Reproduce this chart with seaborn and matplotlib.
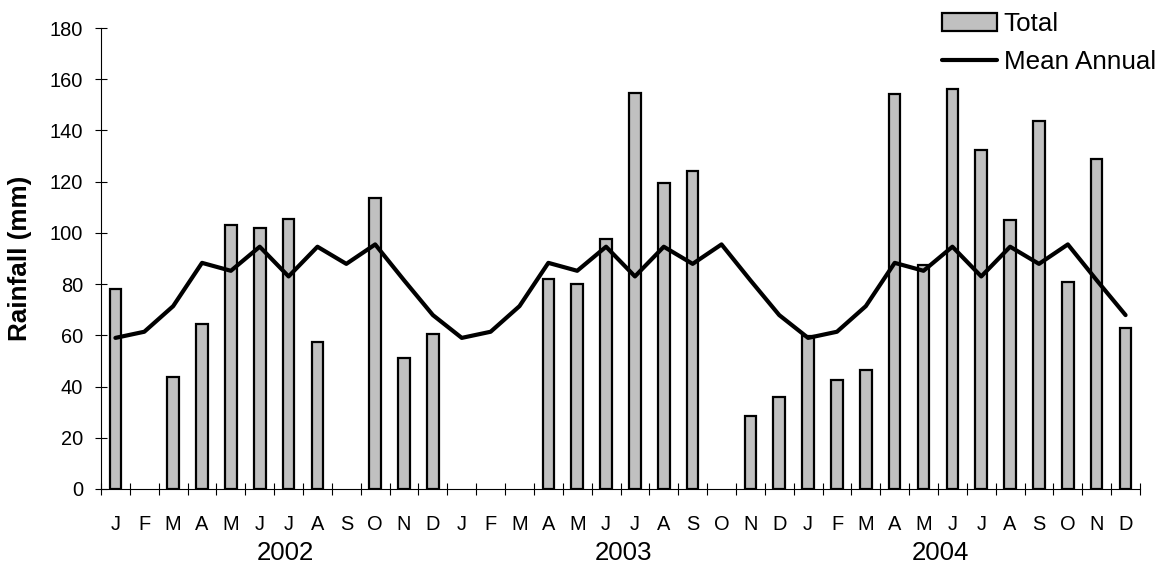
import numpy as np
import pandas as pd
import seaborn as sns
import matplotlib.pyplot as plt
import matplotlib.transforms as mtransforms

#%% Data (monthly rainfall, mm)
months = ['J', 'F', 'M', 'A', 'M', 'J', 'J', 'A', 'S', 'O', 'N', 'D']
years = ['2002', '2003', '2004']
nan = np.nan
total_2002 = [78.2, nan, 43.8, 64.6, 103.0, 102.1, 105.4, 57.5, nan, 113.8, 51.0, 60.6]
total_2003 = [nan, nan, nan, 82.0, 79.9, 97.6, 154.6, 119.3, 124.2, nan, 28.5, 35.9]
total_2004 = [59.9, 42.5, 46.3, 154.2, 87.6, 156.3, 132.3, 105.2, 143.5, 80.8, 128.7, 63.0]
mean_annual = [59.0, 61.4, 71.4, 88.3, 85.2, 94.6, 83.0, 94.6, 87.9, 95.5, 81.5, 67.9]

df = pd.DataFrame({
    'pos': np.arange(36),
    'month': months * 3,
    'total': total_2002 + total_2003 + total_2004,
    'mean': mean_annual * 3,
})

#%% Plot
sns.set_theme(style='ticks')
plt.rcParams['font.family'] = ['Liberation Sans', 'DejaVu Sans']
plt.rcParams['text.color'] = 'black'
plt.rcParams['axes.labelcolor'] = 'black'
plt.rcParams['xtick.color'] = 'black'
plt.rcParams['ytick.color'] = 'black'

fig = plt.figure(figsize=(11.63, 5.65), dpi=100)
ax = fig.add_axes([101 / 1163, 76 / 565, 1039 / 1163, 461 / 565])

sns.barplot(data=df, x='pos', y='total', order=list(df['pos']),
            color='#c0c0c0', saturation=1, edgecolor='black', linewidth=1.6,
            width=0.4, errorbar=None, label='Total', ax=ax)
sns.lineplot(data=df, x='pos', y='mean', color='black', linewidth=3,
             label='Mean Annual', ax=ax)

ax.set_xlim(-0.5, 35.5)
ax.set_ylim(0, 180)
ax.set_yticks(np.arange(0, 181, 20))
ax.set_xticks(np.arange(-0.5, 36, 1))
ax.set_xticklabels([])
ax.set_xticks(df['pos'], minor=True)
ax.set_xticklabels(df['month'], minor=True)

ax.tick_params(axis='both', which='major', direction='inout', length=9,
               width=0.8, color='black', labelsize=14.4, pad=8.5,
               bottom=True, left=True)
ax.tick_params(axis='x', which='minor', length=0, labelsize=14.4, pad=19,
               bottom=True)
for s in ['top', 'right']:
    ax.spines[s].set_visible(False)
for s in ['left', 'bottom']:
    ax.spines[s].set_color('black')
    ax.spines[s].set_linewidth(0.8)

ax.set_xlabel('')
ax.set_ylabel('Rainfall (mm)', fontsize=18.7, fontweight='bold')
ax.yaxis.set_label_coords(-0.066, 0.5)

# year labels under the month letters
trans = mtransforms.blended_transform_factory(ax.transData, ax.transAxes)
for xpos, yr in zip([5.88, 17.62, 28.6], years):
    ax.text(xpos, -0.138, yr, transform=trans, ha='center', va='center',
            fontsize=18.6)

handles, labels = ax.get_legend_handles_labels()
order = [labels.index('Total'), labels.index('Mean Annual')]
ax.legend([handles[i] for i in order], [labels[i] for i in order],
          loc='upper left', bbox_to_anchor=(942 / 1163, 0.979),
          bbox_transform=fig.transFigure, frameon=False, borderpad=0,
          borderaxespad=0, fontsize=18.7, handlelength=2.1,
          handletextpad=0.27, labelspacing=0.55)

plt.savefig('out.png', dpi=100)
